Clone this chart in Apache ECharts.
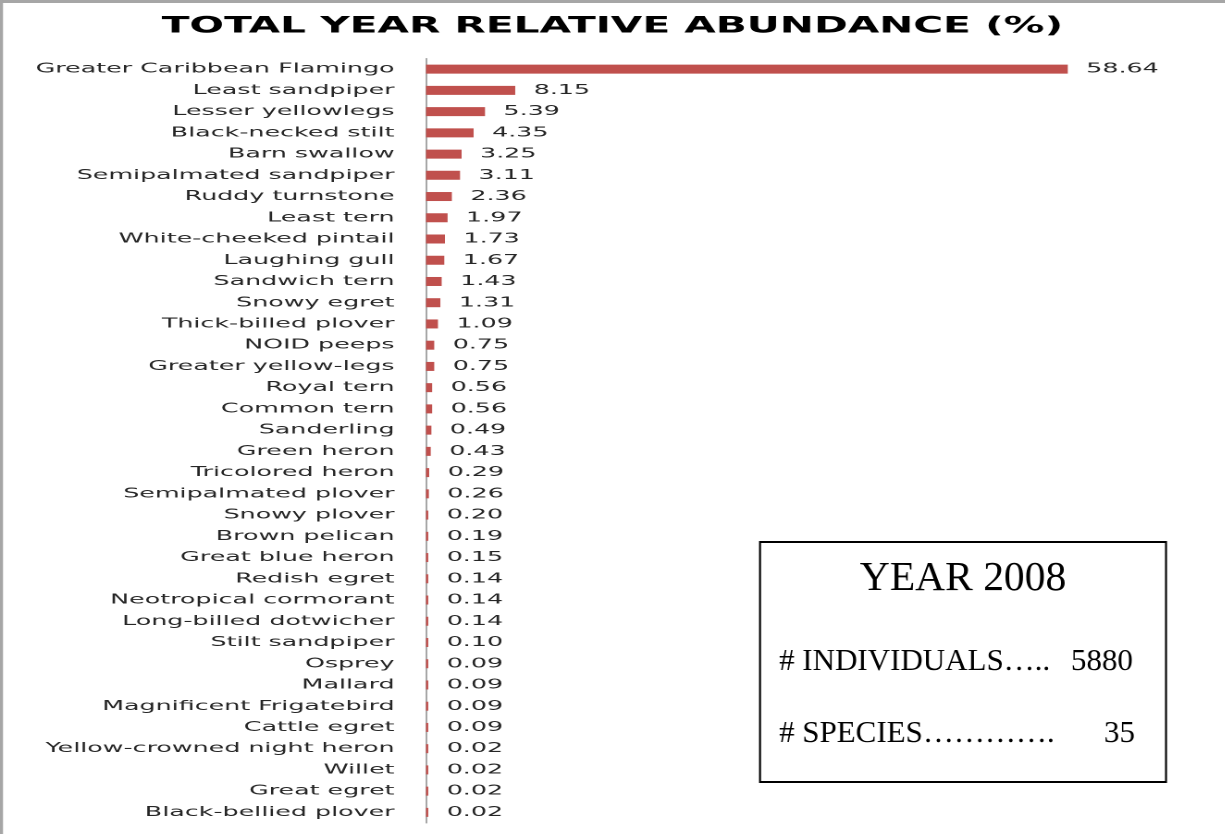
<!DOCTYPE html>
<html>
<head>
<meta charset="utf-8">
<title>Total year relative abundance (%)</title>
<script src="https://cdn.jsdelivr.net/npm/echarts@6/dist/echarts.min.js"></script>
<style>
  html, body { margin: 0; padding: 0; background: #ffffff; overflow: hidden; }
  #chart { height: 834px; transform-origin: 0 0; }
</style>
</head>
<body>
<div id="chart"></div>
<script>
// Species observed during 2008, ordered by share of all individuals counted
const species = [
  'Greater Caribbean Flamingo', 'Least sandpiper', 'Lesser yellowlegs', 'Black-necked stilt',
  'Barn swallow', 'Semipalmated sandpiper', 'Ruddy turnstone', 'Least tern',
  'White-cheeked pintail', 'Laughing gull', 'Sandwich tern', 'Snowy egret',
  'Thick-billed plover', 'NOID peeps', 'Greater yellow-legs', 'Royal tern',
  'Common tern', 'Sanderling', 'Green heron', 'Tricolored heron',
  'Semipalmated plover', 'Snowy plover', 'Brown pelican', 'Great blue heron',
  'Redish egret', 'Neotropical cormorant', 'Long-billed dotwicher', 'Stilt sandpiper',
  'Osprey', 'Mallard', 'Magnificent Frigatebird', 'Cattle egret',
  'Yellow-crowned night heron', 'Willet', 'Great egret', 'Black-bellied plover'
];

// Relative abundance, percent of all individuals
const abundance = [
  58.64, 8.15, 5.39, 4.35,
  3.25, 3.11, 2.36, 1.97,
  1.73, 1.67, 1.43, 1.31,
  1.09, 0.75, 0.75, 0.56,
  0.56, 0.49, 0.43, 0.29,
  0.26, 0.20, 0.19, 0.15,
  0.14, 0.14, 0.14, 0.10,
  0.09, 0.09, 0.09, 0.09,
  0.02, 0.02, 0.02, 0.02
];

const chartTitle = 'TOTAL YEAR RELATIVE ABUNDANCE (%)';
const boxHeading = 'YEAR 2008';
const boxLines = [
  { label: '# INDIVIDUALS\u2026..', value: '5880' },
  { label: '# SPECIES\u2026\u2026\u2026\u2026.', value: '35' }
];

// The chart is laid out on a narrower canvas and stretched horizontally,
// giving the wide lettering of the labels and title.
const S = 1.85;
const PAGE_W = 1225;
const W = PAGE_W / S;
const px = x => x / S;   // page x -> canvas x

const el = document.getElementById('chart');
el.style.width = W + 'px';
el.style.transform = 'scaleX(' + S + ')';

const chart = echarts.init(el, null, { renderer: 'canvas', devicePixelRatio: 2 });

const labelFont = { fontFamily: 'DejaVu Sans', fontSize: 13.7, color: '#262626' };
const serif = 'Liberation Serif';

// Info box drawn at true proportions (counter-scaled)
const box = { x: 760, y: 542, w: 406, h: 240 };
const boxGroup = {
  type: 'group',
  x: px(box.x),
  y: box.y,
  scaleX: 1 / S,
  z: 10,
  children: [
    { type: 'rect', shape: { x: 0, y: 0, width: box.w, height: box.h },
      style: { fill: '#ffffff', stroke: '#000000', lineWidth: 2 } },
    { type: 'text', x: box.w / 2, y: 37,
      style: { text: boxHeading, font: '41.5px "' + serif + '"', fill: '#000', align: 'center', verticalAlign: 'middle' } },
    { type: 'text', x: 19, y: 120,
      style: { text: boxLines[0].label, font: '31px "' + serif + '"', fill: '#000', align: 'left', verticalAlign: 'middle' } },
    { type: 'text', x: 373, y: 120,
      style: { text: boxLines[0].value, font: '31px "' + serif + '"', fill: '#000', align: 'right', verticalAlign: 'middle' } },
    { type: 'text', x: 19, y: 192,
      style: { text: boxLines[1].label, font: '31px "' + serif + '"', fill: '#000', align: 'left', verticalAlign: 'middle' } },
    { type: 'text', x: 375, y: 192,
      style: { text: boxLines[1].value, font: '31px "' + serif + '"', fill: '#000', align: 'right', verticalAlign: 'middle' } }
  ]
};

const option = {
  backgroundColor: '#ffffff',
  animation: false,
  title: {
    text: chartTitle,
    left: 'center',
    top: 16,
    padding: 0,
    textStyle: { fontFamily: 'DejaVu Sans', fontWeight: 'bold', fontSize: 22, color: '#000000' }
  },
  grid: {
    left: px(426),
    right: W - px(426) - px(1068 - 426) * 70 / 58.64,
    top: 58.5,
    bottom: 11,
    containLabel: false
  },
  xAxis: {
    type: 'value',
    min: 0,
    max: 70,
    show: false
  },
  yAxis: {
    type: 'category',
    data: species,
    inverse: true,
    axisLine: { show: true, lineStyle: { color: '#a6a6a6', width: 1 } },
    axisTick: { show: false },
    axisLabel: Object.assign({ margin: 17 }, labelFont),
    splitLine: { show: false }
  },
  series: [{
    type: 'bar',
    data: abundance,
    barWidth: 9,
    barMinHeight: 1.2,
    itemStyle: { color: '#c0504d' },
    label: Object.assign({
      show: true,
      position: 'right',
      distance: 10,
      formatter: p => p.value.toFixed(2)
    }, labelFont)
  }],
  graphic: [
    { type: 'rect', shape: { x: 0, y: 0, width: W, height: 3 }, style: { fill: '#a6a6a6' }, silent: true },
    { type: 'rect', shape: { x: 0, y: 0, width: px(3), height: 834 }, style: { fill: '#a6a6a6' }, silent: true },
    boxGroup
  ]
};

chart.setOption(option);
</script>
</body>
</html>
